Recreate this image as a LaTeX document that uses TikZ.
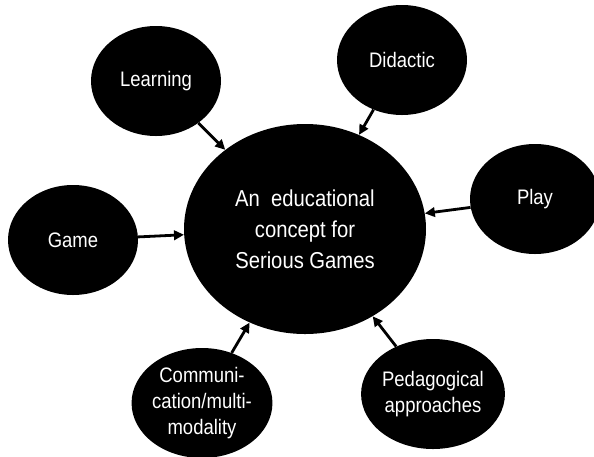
\documentclass[tikz,border=0pt]{standalone}
\usepackage{fontspec}
\setmainfont{Liberation Sans}[FakeStretch=0.88]
\usetikzlibrary{shapes,arrows.meta}

\begin{document}
\begin{tikzpicture}[x=1pt,y=-1pt]
		\tikzstyle{topic}=[ellipse, fill=black, text=white, align=center, minimum width=130pt, minimum height=110pt, inner sep=0pt, font=\fontsize{21}{26}\selectfont];
		\tikzstyle{concept}=[topic, minimum width=242pt, minimum height=210pt, font=\fontsize{23}{31}\selectfont];
		\tikzstyle{link}=[-{Triangle[length=10pt,width=9.5pt]}, line width=2.8pt];
		
		\useasboundingbox (0,0) rectangle (594,456);
		
		\node[concept] (core) at (305,229) {An~ educational\\concept for\\Serious Games};
		
		\node[topic] (learn) at (156,81) {Learning};
		\node[topic] (didac) at (402,60) {Didactic};
		\node[topic] (play) at (535,199) {Play};
		\node[topic] (game) at (73,240) {Game};
		\node[topic] (comm) at (202,403) {Communi-\\cation/multi-\\modality};
		\node[topic] (peda) at (433,394) {Pedagogical\\approaches};
		
		\draw[link] (learn) -- (core);
		\draw[link] (didac) -- (core);
		\draw[link] (play) -- (core);
		\draw[link] (game) -- (core);
		\draw[link] (comm) -- (core);
		\draw[link] (peda) -- (core);
	\end{tikzpicture}
\end{document}
